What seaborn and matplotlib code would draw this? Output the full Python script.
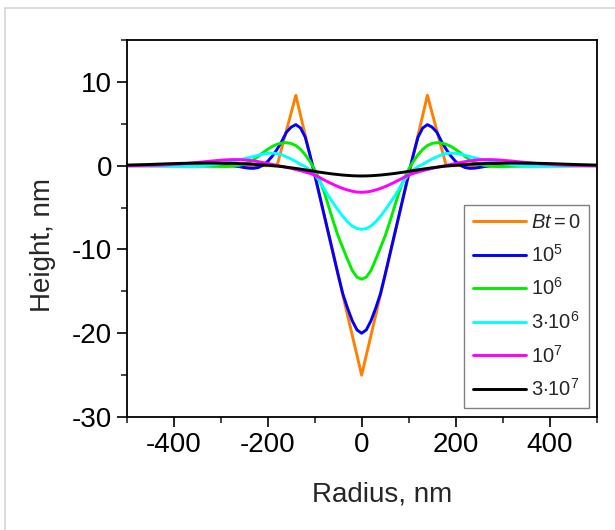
import numpy as np
import pandas as pd
import matplotlib
matplotlib.use('Agg')
import matplotlib.pyplot as plt
from matplotlib.ticker import MultipleLocator
from matplotlib.patches import Rectangle
import seaborn as sns

# radius grid for the right half (profiles are symmetric about r = 0)
r_half = list(range(0, 301, 10)) + list(range(320, 501, 20))

# Bt = 0 : piecewise-linear initial profile
r_bt0 = [0, 140, 180, 500]
h_bt0 = [-25.0, 8.4, 0.0, 0.0]

h_1e5 = [-20.0, -19.6, -18.5, -17.0, -15.3, -13.0, -10.6, -8.2, -5.8, -3.4,
         -1.0, 1.3, 3.4, 4.5, 4.9, 4.6, 4.0, 2.9, 1.95, 1.15,
         0.5, 0.05, -0.22, -0.32, -0.3, -0.22, -0.12, -0.05, -0.01, 0.0, 0.0,
         0, 0, 0, 0, 0, 0, 0, 0, 0, 0]
h_1e6 = [-13.55, -13.3, -12.5, -11.2, -9.8, -8.4, -6.7, -4.9, -3.1, -1.6,
         -0.45, 0.5, 1.3, 1.95, 2.4, 2.65, 2.75, 2.7, 2.55, 2.3,
         1.95, 1.55, 1.1, 0.7, 0.4, 0.2, 0.05, -0.03, -0.08, -0.1, -0.1,
         -0.07, -0.04, -0.02, 0, 0, 0, 0, 0, 0, 0]
h_3e6 = [-7.6, -7.5, -7.2, -6.7, -6.05, -5.3, -4.5, -3.65, -2.75, -1.8,
         -1.05, -0.5, -0.1, 0.15, 0.5, 0.8, 1.05, 1.3, 1.45, 1.5,
         1.47, 1.38, 1.25, 1.1, 0.95, 0.82, 0.7, 0.58, 0.47, 0.37, 0.27,
         0.1, -0.02, -0.07, -0.08, -0.07, -0.05, -0.03, -0.01, 0, 0]
h_1e7 = [-3.18, -3.15, -3.05, -2.9, -2.72, -2.5, -2.25, -1.98, -1.7, -1.4,
         -1.12, -0.92, -0.76, -0.6, -0.46, -0.33, -0.2, -0.08, 0.04, 0.15,
         0.26, 0.37, 0.48, 0.57, 0.64, 0.69, 0.72, 0.73, 0.72, 0.69, 0.65,
         0.55, 0.44, 0.33, 0.23, 0.15, 0.09, 0.05, 0.03, 0.01, 0.0]
h_3e7 = [-1.23, -1.22, -1.2, -1.16, -1.12, -1.06, -1.0, -0.93, -0.85, -0.77,
         -0.68, -0.59, -0.5, -0.41, -0.33, -0.25, -0.18, -0.11, -0.05, 0.0,
         0.05, 0.09, 0.13, 0.17, 0.2, 0.23, 0.25, 0.27, 0.28, 0.29, 0.3,
         0.31, 0.31, 0.3, 0.28, 0.25, 0.21, 0.17, 0.13, 0.1, 0.07]

labels = [r'$Bt = 0$', r'$10^5$', r'$10^6$', r'$3{\cdot}10^6$', r'$10^7$', r'$3{\cdot}10^7$']
colors = ['#ff8000', '#0000ff', '#00ee00', '#00ffff', '#ff00ff', '#000000']


def mirror(r, h):
    r = np.asarray(r, float)
    h = np.asarray(h, float)
    return np.concatenate([-r[:0:-1], r]), np.concatenate([h[:0:-1], h])


frames = []
series = [(r_bt0, h_bt0), (r_half, h_1e5), (r_half, h_1e6),
          (r_half, h_3e6), (r_half, h_1e7), (r_half, h_3e7)]
for lab, (r, h) in zip(labels, series):
    rr, hh = mirror(r, h)
    frames.append(pd.DataFrame({'Radius': rr, 'Height': hh, 'Bt': lab}))
df = pd.concat(frames, ignore_index=True)

sns.set_style('ticks')
plt.rcParams['font.family'] = ['Liberation Sans', 'DejaVu Sans']
plt.rcParams['mathtext.fontset'] = 'custom'
plt.rcParams['mathtext.rm'] = 'Liberation Sans'
plt.rcParams['mathtext.it'] = 'Liberation Sans:italic'
plt.rcParams['axes.unicode_minus'] = False

fig = plt.figure(figsize=(6.15, 5.3), dpi=100)
ax = fig.add_axes([0.206, 0.2132, 0.764, 0.7113])

sns.lineplot(data=df, x='Radius', y='Height', hue='Bt', hue_order=labels,
             palette=colors, linewidth=2.1, estimator=None, sort=True, ax=ax)

ax.set_xlim(-500, 500)
ax.set_ylim(-30, 15)
ax.xaxis.set_major_locator(MultipleLocator(200))
ax.xaxis.set_minor_locator(MultipleLocator(100))
ax.yaxis.set_major_locator(MultipleLocator(10))
ax.yaxis.set_minor_locator(MultipleLocator(5))
ax.tick_params(which='major', direction='out', length=7, width=1.2, labelsize=20, colors='black')
ax.tick_params(which='minor', direction='out', length=4, width=1.2)
for s in ax.spines.values():
    s.set_visible(True)
    s.set_linewidth(1.3)
    s.set_color('black')

ax.set_xlabel('Radius, nm', fontsize=20)
ax.set_ylabel('Height, nm', fontsize=20)
ax.xaxis.set_label_coords(0.543, -0.17)
ax.yaxis.set_label_coords(-0.15, 0.456)

handles, labs = ax.get_legend_handles_labels()
leg = ax.legend(handles, labs, loc='lower right', bbox_to_anchor=(0.9836, 0.0239),
                borderaxespad=0, fontsize=14.5, handlelength=2.65, handletextpad=0.25,
                labelspacing=0.58, borderpad=0.4, fancybox=False, framealpha=1,
                edgecolor='#808080')
leg.get_frame().set_linewidth(1.0)
for line in leg.get_lines():
    line.set_linewidth(2.1)

fig.patches.append(Rectangle((5 / 615, -0.1), 1.5, 1 - 8 / 530 + 0.1,
                             transform=fig.transFigure, fill=False,
                             edgecolor='#d5d5d5', linewidth=1.2))

fig.savefig('out.png', dpi=100)
